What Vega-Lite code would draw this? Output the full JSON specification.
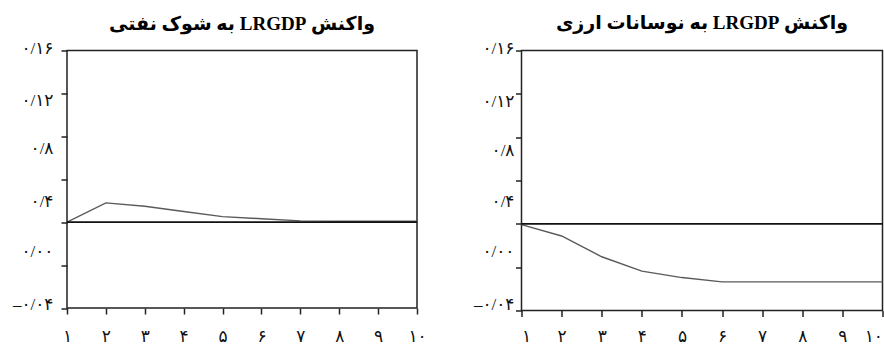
{
  "$schema": "https://vega.github.io/schema/vega-lite/v6.json",
  "padding": {"left": 0, "top": 12.5, "right": 0, "bottom": 0},
  "spacing": 38.5,
  "background": "white",
  "config": {
    "view": {"stroke": "#222", "strokeWidth": 1.5},
    "axis": {"domain": false, "grid": false, "tickColor": "#222", "tickWidth": 1.5, "tickSize": 6, "labelColor": "#111", "title": null, "labelFont": "Liberation Serif, DejaVu Sans"},
    "title": {"font": "Liberation Serif, DejaVu Sans", "fontSize": 19, "fontWeight": "bold", "color": "#000", "anchor": "middle", "frame": "group"}
  },
  "datasets": {
    "oil": [
      {"h": 1, "resp": 0},
      {"h": 2, "resp": 0.0045},
      {"h": 3, "resp": 0.0037},
      {"h": 4, "resp": 0.0025},
      {"h": 5, "resp": 0.0013},
      {"h": 6, "resp": 0.0008},
      {"h": 7, "resp": 0.0003},
      {"h": 8, "resp": 0.0002},
      {"h": 9, "resp": 0.0002},
      {"h": 10, "resp": 0.0002}
    ],
    "fx": [
      {"h": 1, "resp": -0.0002},
      {"h": 2, "resp": -0.0028},
      {"h": 3, "resp": -0.0076},
      {"h": 4, "resp": -0.0109},
      {"h": 5, "resp": -0.0124},
      {"h": 6, "resp": -0.0134},
      {"h": 7, "resp": -0.0134},
      {"h": 8, "resp": -0.0134},
      {"h": 9, "resp": -0.0134},
      {"h": 10, "resp": -0.0134}
    ]
  },
  "hconcat": [
    {
      "width": 350,
      "height": 257.5,
      "title": {"text": "\u202bواکنش LRGDP به شوک نفتی\u202c", "offset": 5},
      "layer": [
        {
          "data": {"name": "oil"},
          "mark": {"type": "line", "color": "#5a5a5a", "strokeWidth": 1.4},
          "encoding": {
            "x": {"field": "h", "type": "quantitative", "scale": {"domain": [1, 10], "nice": false, "zero": false},
              "axis": {"values": [1,2,3,4,5,6,7,8,9,10], "labelExpr": "['','۱','۲','۳','۴','۵','۶','۷','۸','۹','۱۰'][datum.value]", "labelFontSize": 17, "labelPadding": 14, "labelAngle": 0, "labelFlush": false}},
            "y": {"field": "resp", "type": "quantitative", "scale": {"domain": [-0.02, 0.04], "nice": false, "zero": false},
              "axis": {"values": [-0.02,-0.01,0,0.01,0.02,0.03,0.04],
                "labelExpr": "datum.value > 0.035 ? '۰/۱۶' : datum.value > 0.025 ? '۰/۱۲' : datum.value > 0.015 ? '۰/۸' : datum.value > 0.005 ? '۰/۴' : datum.value > -0.005 ? '۰/۰۰' : datum.value > -0.015 ? '' : '–۰/۰۴'",
                "labelOffset": {"condition": [
                  {"test": "datum.value > 0.035", "value": -2.5},
                  {"test": "datum.value > 0.025", "value": 7},
                  {"test": "datum.value > 0.015", "value": 12.5},
                  {"test": "datum.value > 0.005", "value": 22},
                  {"test": "datum.value > -0.005", "value": 29},
                  {"test": "datum.value < -0.015", "value": -4}
                ], "value": 0},
                "labelFontSize": 17, "labelPadding": 8, "minExtent": 66, "maxExtent": 66}}
          }
        },
        {
          "data": {"values": [{}]},
          "mark": {"type": "rule", "color": "#111", "strokeWidth": 1.8},
          "encoding": {"y": {"datum": 0, "type": "quantitative"}}
        }
      ]
    },
    {
      "width": 361,
      "height": 260,
      "title": {"text": "\u202bواکنش LRGDP به نوسانات ارزی\u202c", "offset": 6},
      "layer": [
        {
          "data": {"name": "fx"},
          "mark": {"type": "line", "color": "#5a5a5a", "strokeWidth": 1.4},
          "encoding": {
            "x": {"field": "h", "type": "quantitative", "scale": {"domain": [1, 10], "nice": false, "zero": false},
              "axis": {"values": [1,2,3,4,5,6,7,8,9,10], "labelExpr": "['','۱','۲','۳','۴','۵','۶','۷','۸','۹','۱۰'][datum.value]", "labelFontSize": 17, "labelPadding": 11.5, "labelAngle": 0, "labelFlush": true}},
            "y": {"field": "resp", "type": "quantitative", "scale": {"domain": [-0.02, 0.04], "nice": false, "zero": false},
              "axis": {"values": [-0.02,-0.01,0,0.01,0.02,0.03,0.04],
                "labelExpr": "datum.value > 0.035 ? '۰/۱۶' : datum.value > 0.025 ? '۰/۱۲' : datum.value > 0.015 ? '۰/۸' : datum.value > 0.005 ? '۰/۴' : datum.value > -0.005 ? '۰/۰۰' : datum.value > -0.015 ? '' : '–۰/۰۴'",
                "labelOffset": {"condition": [
                  {"test": "datum.value > 0.035", "value": -2.5},
                  {"test": "datum.value > 0.025", "value": 8},
                  {"test": "datum.value > 0.015", "value": 13},
                  {"test": "datum.value > 0.005", "value": 21},
                  {"test": "datum.value > -0.005", "value": 28},
                  {"test": "datum.value < -0.015", "value": -6.5}
                ], "value": 0},
                "labelFontSize": 17, "labelPadding": 1.5, "minExtent": 55, "maxExtent": 55}}
          }
        },
        {
          "data": {"values": [{}]},
          "mark": {"type": "rule", "color": "#111", "strokeWidth": 1.8},
          "encoding": {"y": {"datum": 0, "type": "quantitative"}}
        }
      ]
    }
  ]
}
